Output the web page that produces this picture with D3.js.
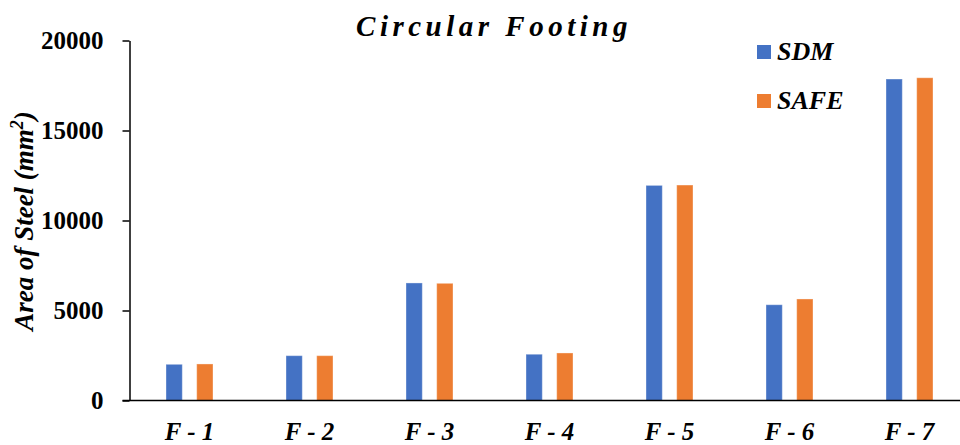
<!DOCTYPE html>
<html>
<head>
<meta charset="utf-8">
<script src="https://cdn.jsdelivr.net/npm/d3@7"></script>
</head>
<body style="margin:0;padding:0;background:#fff">
<svg id="chart" width="960" height="445" style="display:block"></svg>
<script>
// Footing labels and required steel area (mm²) for each design method
const categories = ["F-1", "F-2", "F-3", "F-4", "F-5", "F-6", "F-7"];
const seriesNames = ["SDM", "SAFE"];
const sdmValues = [2010, 2490, 6530, 2570, 11950, 5320, 17860];
const safeValues = [2030, 2490, 6510, 2640, 11970, 5640, 17930];
const yTicks = [0, 5000, 10000, 15000, 20000];
const colors = ["#4472C4", "#ED7D31"];

const FONT = '"Liberation Serif"';
const svg = d3.select("#chart");
const W = 960;
const plot = { left: 129.5, right: 969.5, top: 40.5, bottom: 400.5 };

const x0 = d3.scaleBand().domain(categories).range([plot.left, plot.right]).paddingInner(0).paddingOuter(0);
const x1 = d3.scaleBand().domain(seriesNames).range([0, x0.bandwidth()]).paddingInner(0.469).paddingOuter(1.189);
const y = d3.scaleLinear().domain([0, 20000]).range([plot.bottom, plot.top]);
const color = d3.scaleOrdinal().domain(seriesNames).range(colors);

const rows = categories.map((c, i) => ({ cat: c, vals: [
  { key: "SDM", value: sdmValues[i] },
  { key: "SAFE", value: safeValues[i] }
]}));

// Bars
const groups = svg.append("g").selectAll("g").data(rows).join("g")
  .attr("transform", d => `translate(${x0(d.cat)},0)`);
groups.selectAll("rect").data(d => d.vals).join("rect")
  .attr("x", d => x1(d.key))
  .attr("y", d => y(d.value))
  .attr("width", x1.bandwidth())
  .attr("height", d => y(0) - y(d.value))
  .attr("fill", d => color(d.key))
  .attr("stroke", "#ffffff")
  .attr("stroke-opacity", 0.35)
  .attr("stroke-width", 1);

// Y axis
const yAxis = svg.append("g")
  .attr("transform", `translate(${plot.left},0)`)
  .call(d3.axisLeft(y).tickValues(yTicks).tickSize(7).tickSizeOuter(0).tickPadding(19).tickFormat(d3.format("d")));
yAxis.select(".domain").attr("stroke", "#000").attr("stroke-width", 1.5);
yAxis.selectAll(".tick line").attr("stroke", "#000").attr("stroke-width", 1.5);
yAxis.selectAll(".tick text")
  .attr("fill", "#000")
  .attr("font-family", FONT)
  .attr("font-size", 25)
  .attr("font-weight", "bold");

// Baseline of the category axis
svg.append("line")
  .attr("x1", plot.left - 7).attr("x2", W)
  .attr("y1", y(0)).attr("y2", y(0))
  .attr("stroke", "#000").attr("stroke-width", 1.5);

// Category labels
svg.append("g").selectAll("text").data(categories).join("text")
  .attr("x", d => x0(d) + x0.bandwidth() / 2)
  .attr("y", 440)
  .attr("text-anchor", "middle")
  .attr("font-family", FONT).attr("font-size", 25)
  .attr("font-weight", "bold").attr("font-style", "italic")
  .text(d => d.replace("-", " - "));

// Chart title
svg.append("text")
  .attr("x", 494)
  .attr("y", 36)
  .attr("text-anchor", "middle")
  .attr("font-family", FONT).attr("font-size", 29)
  .attr("font-weight", "bold").attr("font-style", "italic")
  .attr("letter-spacing", 4.5)
  .text("Circular Footing");

// Y axis title
const yTitle = svg.append("text")
  .attr("transform", "translate(33,221) rotate(-90)")
  .attr("text-anchor", "middle")
  .attr("font-family", FONT).attr("font-size", 27)
  .attr("font-weight", "bold").attr("font-style", "italic");
yTitle.append("tspan").text("Area of Steel (mm");
yTitle.append("tspan").attr("dy", -10).attr("font-size", 18).text("2");
yTitle.append("tspan").attr("dy", 10).text(")");

// Legend
const legend = svg.append("g").selectAll("g").data(seriesNames).join("g")
  .attr("transform", (d, i) => `translate(757,${45 + i * 49})`);
legend.append("rect")
  .attr("width", 14).attr("height", 14)
  .attr("fill", d => color(d));
legend.append("text")
  .attr("x", 20).attr("y", 15)
  .attr("font-family", FONT).attr("font-size", 26)
  .attr("font-weight", "bold").attr("font-style", "italic")
  .text(d => d);
</script>
</body>
</html>
